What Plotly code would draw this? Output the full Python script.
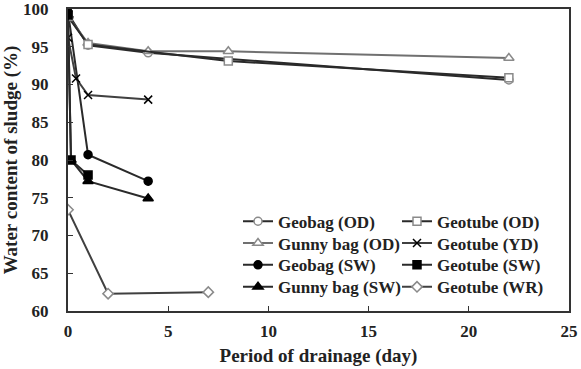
import plotly.graph_objects as go

# ---- data ----
geobag_od_x = [0, 1, 4, 22]
geobag_od_y = [99.4, 95.2, 94.2, 90.6]
geotube_od_x = [0, 1, 8, 22]
geotube_od_y = [99.0, 95.3, 93.1, 90.9]
gunny_od_x = [0, 1, 4, 8, 22]
gunny_od_y = [99.0, 95.5, 94.4, 94.4, 93.5]
geotube_yd_x = [0, 0.4, 1, 4]
geotube_yd_y = [96.2, 90.8, 88.6, 88.0]
geobag_sw_x = [0, 1, 4]
geobag_sw_y = [99.6, 80.7, 77.2]
geotube_sw_x = [0, 0.15, 1]
geotube_sw_y = [99.2, 80.0, 78.0]
gunny_sw_x = [0, 0.15, 1, 4]
gunny_sw_y = [99.2, 80.0, 77.2, 74.9]
geotube_wr_x = [0, 2, 7]
geotube_wr_y = [73.4, 62.3, 62.5]

x_ticks = [0, 5, 10, 15, 20, 25]
y_ticks = [60, 65, 70, 75, 80, 85, 90, 95, 100]

FONT = "Liberation Serif"
LINE = "#2a2a2a"
GRAY = "#8a8a8a"

W, H = 581, 369
ML, MR, MT, MB = 68, 12, 9, 58
PW, PH = W - ML - MR, H - MT - MB

# name, x, y, symbol, fill, line colour, marker outline, (legend column, row)
series = [
    ("Geobag (OD)", geobag_od_x, geobag_od_y, "circle", "white", LINE, GRAY, (0, 0)),
    ("Gunny bag (OD)", gunny_od_x, gunny_od_y, "triangle-up", "white", "#707070", GRAY, (0, 1)),
    ("Geobag (SW)", geobag_sw_x, geobag_sw_y, "circle", "black", LINE, "black", (0, 2)),
    ("Gunny bag (SW)", gunny_sw_x, gunny_sw_y, "triangle-up", "black", LINE, "black", (0, 3)),
    ("Geotube (OD)", geotube_od_x, geotube_od_y, "square", "white", LINE, GRAY, (1, 0)),
    ("Geotube (YD)", geotube_yd_x, geotube_yd_y, "x-thin-open", "black", "#404040", "#202020", (1, 1)),
    ("Geotube (SW)", geotube_sw_x, geotube_sw_y, "square", "black", LINE, "black", (1, 2)),
    ("Geotube (WR)", geotube_wr_x, geotube_wr_y, "diamond", "white", "#404040", GRAY, (1, 3)),
]

col_left_px = [238, 397]
row_center_px = [221.7, 243.5, 265.3, 287.3]

fig = go.Figure()
legends = {}
for i, (name, xs, ys, sym, fill, lc, mlc, (c, r)) in enumerate(series):
    key = "legend" if i == 0 else f"legend{i + 1}"
    fig.add_trace(go.Scatter(
        x=xs, y=ys, name=name, mode="lines+markers",
        line=dict(color=lc, width=2),
        marker=dict(symbol=sym, size=8 if "triangle" not in sym else 9,
                    color=fill, line=dict(color=mlc, width=1.5)),
        legend=key,
    ))
    legends[key] = dict(
        x=(col_left_px[c] - ML) / PW, y=1 - (row_center_px[r] - MT) / PH,
        xanchor="left", yanchor="middle",
        font=dict(family=FONT, size=17, color="#222", weight="bold"),
        bgcolor="rgba(0,0,0,0)", itemwidth=30,
    )

fig.update_layout(
    width=W, height=H,
    margin=dict(l=ML, r=MR, t=MT, b=MB, autoexpand=False),
    plot_bgcolor="white", paper_bgcolor="white",
    font=dict(family=FONT, size=17, color="#222", weight="bold"),
    showlegend=True,
    xaxis=dict(range=[0, 25], tickvals=x_ticks, ticks="inside", ticklen=5,
               tickcolor="#333", showline=True, linecolor="#333", linewidth=2,
               mirror=True, showgrid=False, zeroline=False, ticklabelstandoff=4,
               ticklabeloverflow="allow",
               title=dict(text="Period of drainage (day)", standoff=8,
                          font=dict(family=FONT, size=19, weight="bold"))),
    yaxis=dict(range=[60, 100], tickvals=y_ticks, ticks="inside", ticklen=5,
               tickcolor="#333", showline=True, linecolor="#333", linewidth=2,
               mirror=True, showgrid=False, zeroline=False, ticklabelstandoff=14,
               ticklabeloverflow="allow",
               title=dict(text="Water content of sludge (%)", standoff=6,
                          font=dict(family=FONT, size=19, weight="bold"))),
    **legends,
)

fig.write_html("out.html")
